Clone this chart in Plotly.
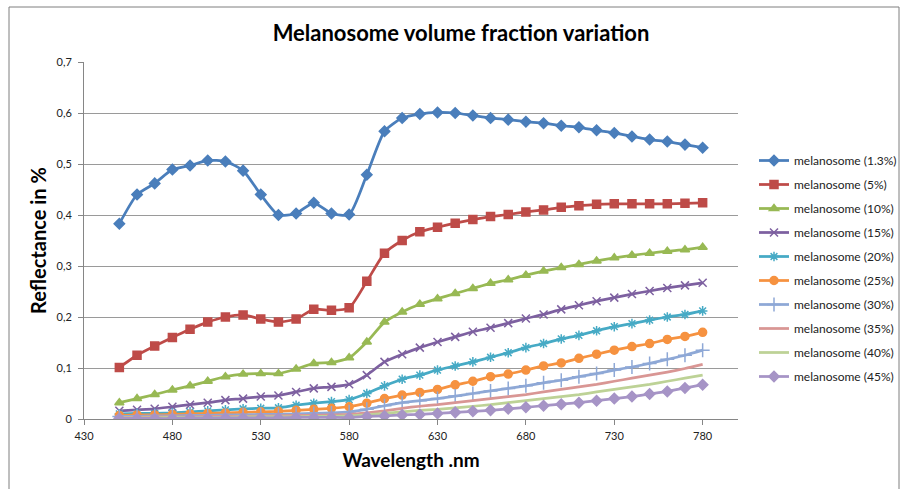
import plotly.graph_objects as go

# wavelength (nm), one point every 10 nm
wavelength = list(range(450, 790, 10))

m_1_3 = [0.383, 0.440, 0.462, 0.489, 0.497, 0.507, 0.505, 0.487, 0.440, 0.400,
         0.403, 0.424, 0.403, 0.401, 0.479, 0.564, 0.590, 0.598, 0.601, 0.600,
         0.595, 0.590, 0.587, 0.583, 0.580, 0.575, 0.572, 0.566, 0.561, 0.554,
         0.548, 0.544, 0.538, 0.532]
m_5 = [0.101, 0.125, 0.143, 0.160, 0.176, 0.190, 0.200, 0.204, 0.196, 0.190,
       0.196, 0.215, 0.213, 0.218, 0.270, 0.325, 0.350, 0.367, 0.376, 0.384,
       0.391, 0.397, 0.401, 0.406, 0.410, 0.415, 0.418, 0.421, 0.422, 0.422,
       0.422, 0.422, 0.423, 0.424]
m_10 = [0.032, 0.040, 0.048, 0.057, 0.065, 0.074, 0.083, 0.088, 0.089, 0.089,
        0.098, 0.109, 0.111, 0.120, 0.151, 0.190, 0.210, 0.225, 0.236, 0.246,
        0.256, 0.266, 0.273, 0.282, 0.290, 0.297, 0.303, 0.310, 0.316, 0.321,
        0.325, 0.329, 0.332, 0.337]
m_15 = [0.016, 0.018, 0.020, 0.024, 0.028, 0.032, 0.037, 0.040, 0.044, 0.046,
        0.053, 0.060, 0.063, 0.068, 0.086, 0.112, 0.127, 0.140, 0.151, 0.161,
        0.171, 0.179, 0.188, 0.197, 0.205, 0.215, 0.223, 0.231, 0.238, 0.245,
        0.251, 0.257, 0.262, 0.267]
m_20 = [0.010, 0.011, 0.011, 0.012, 0.014, 0.016, 0.018, 0.020, 0.021, 0.022,
        0.027, 0.031, 0.034, 0.038, 0.050, 0.065, 0.078, 0.086, 0.096, 0.104,
        0.112, 0.121, 0.130, 0.140, 0.148, 0.157, 0.164, 0.173, 0.181, 0.187,
        0.194, 0.200, 0.205, 0.212]
m_25 = [0.007, 0.008, 0.008, 0.009, 0.010, 0.011, 0.012, 0.013, 0.014, 0.015,
        0.017, 0.019, 0.021, 0.024, 0.031, 0.040, 0.047, 0.052, 0.058, 0.067,
        0.074, 0.083, 0.088, 0.096, 0.104, 0.110, 0.119, 0.127, 0.135, 0.142,
        0.148, 0.156, 0.162, 0.170]
m_30 = [0.005, 0.005, 0.006, 0.006, 0.007, 0.007, 0.008, 0.008, 0.009, 0.009,
        0.010, 0.011, 0.012, 0.014, 0.019, 0.026, 0.032, 0.036, 0.040, 0.045,
        0.050, 0.055, 0.060, 0.065, 0.071, 0.076, 0.083, 0.089, 0.096, 0.102,
        0.109, 0.117, 0.125, 0.135]
m_35 = [0.003, 0.003, 0.004, 0.004, 0.004, 0.005, 0.005, 0.005, 0.006, 0.006,
        0.007, 0.007, 0.008, 0.009, 0.012, 0.016, 0.021, 0.025, 0.028, 0.032,
        0.036, 0.040, 0.044, 0.048, 0.053, 0.058, 0.063, 0.068, 0.074, 0.080,
        0.086, 0.092, 0.099, 0.107]
m_40 = [0.002, 0.002, 0.002, 0.003, 0.003, 0.003, 0.003, 0.004, 0.004, 0.004,
        0.004, 0.005, 0.005, 0.006, 0.008, 0.011, 0.014, 0.017, 0.019, 0.022,
        0.025, 0.028, 0.032, 0.036, 0.040, 0.044, 0.048, 0.053, 0.058, 0.063,
        0.068, 0.074, 0.080, 0.086]
m_45 = [0.001, 0.001, 0.001, 0.001, 0.002, 0.002, 0.002, 0.002, 0.002, 0.002,
        0.003, 0.003, 0.003, 0.003, 0.005, 0.006, 0.008, 0.009, 0.011, 0.013,
        0.015, 0.017, 0.020, 0.023, 0.026, 0.029, 0.032, 0.036, 0.040, 0.044,
        0.049, 0.054, 0.061, 0.067]

names = ['melanosome (1.3%)', 'melanosome (5%)', 'melanosome (10%)', 'melanosome (15%)',
         'melanosome (20%)', 'melanosome (25%)', 'melanosome (30%)', 'melanosome (35%)',
         'melanosome (40%)', 'melanosome (45%)']
series = [m_1_3, m_5, m_10, m_15, m_20, m_25, m_30, m_35, m_40, m_45]

y_ticks = [0, 0.1, 0.2, 0.3, 0.4, 0.5, 0.6, 0.7]
y_tick_text = ['0', '0,1', '0,2', '0,3', '0,4', '0,5', '0,6', '0,7']
x_ticks = [430, 480, 530, 580, 630, 680, 730, 780]

colors = ['#4A7EBB', '#BE4B48', '#98B954', '#7D60A0', '#46AAC5', '#F69240',
          '#8EA8D6', '#D99694', '#BDD296', '#A694C6']
symbols = ['diamond', 'square', 'triangle-up', 'x-thin-open', 'asterisk-open',
           'circle', 'cross-thin-open', None, None, 'diamond']
sizes = [8, 8, 8, 8, 8, 8, 10, 0, 0, 8]

W, H = 903, 489
L, R, T, B = 84, 165, 62, 70
pw, ph = W - L - R, H - T - B

fig = go.Figure()
for i in range(len(series)):
    if symbols[i] is None:
        mode = 'lines'
        marker = dict()
    else:
        mode = 'lines+markers'
        marker = dict(symbol=symbols[i], size=sizes[i], color=colors[i],
                      line=dict(color=colors[i], width=1.5))
    fig.add_trace(go.Scatter(
        x=wavelength, y=series[i], name=names[i], mode=mode,
        line=dict(color=colors[i], width=2.75, shape='spline', smoothing=0.6),
        marker=marker, legendgroup=names[i]
    ))

font = 'Lato, Open Sans, sans-serif'
fig.update_layout(
    width=W, height=H,
    margin=dict(l=L, r=R, t=T, b=B, autoexpand=False),
    paper_bgcolor='white', plot_bgcolor='white',
    font=dict(family=font, size=11, color='#222222'),
    title=dict(text='<b>Melanosome volume fraction variation</b>',
               x=461 / W, xanchor='center', y=1 - 33 / H, yanchor='middle',
               font=dict(family=font, size=22, color='black')),
    showlegend=True,
    legend=dict(x=(754 - L) / pw, xanchor='left', y=(419 - 146) / ph, yanchor='top',
                font=dict(family=font, size=12, color='#222222'),
                traceorder='grouped', tracegroupgap=5, bgcolor='rgba(0,0,0,0)'),
    shapes=[dict(type='rect', xref='paper', yref='paper',
                 x0=(9 - L) / pw, x1=(899 - L) / pw,
                 y0=(419 - 495) / ph, y1=(419 - 7) / ph,
                 line=dict(color='#7f7f7f', width=1), layer='below')],
)
fig.update_xaxes(
    range=[430, 800], tickvals=x_ticks, showgrid=False, zeroline=False,
    showline=True, linecolor='#868686', linewidth=1, automargin=False,
    ticks='outside', ticklen=5, tickcolor='#868686', ticklabelstandoff=2,
    tickfont=dict(family=font, size=11, color='#222222'),
    title=dict(text='<b>Wavelength .nm</b>', standoff=12,
               font=dict(family=font, size=19, color='black')),
)
fig.update_yaxes(
    range=[0, 0.7], tickvals=y_ticks, ticktext=y_tick_text,
    showgrid=True, gridcolor='#9a9a9a', gridwidth=1, zeroline=False,
    showline=True, linecolor='#868686', linewidth=1, automargin=False,
    ticks='outside', ticklen=5, tickcolor='#868686', ticklabelstandoff=4,
    tickfont=dict(family=font, size=11, color='#222222'),
    title=dict(text='<b>Reflectance in %</b>', standoff=4,
               font=dict(family=font, size=20, color='black')),
)

# the page body has an 8px default margin; drop it so the chart sits at 0,0
fig.write_html("out.html", config={'displayModeBar': False},
               post_script="document.body.style.margin = '0';")
